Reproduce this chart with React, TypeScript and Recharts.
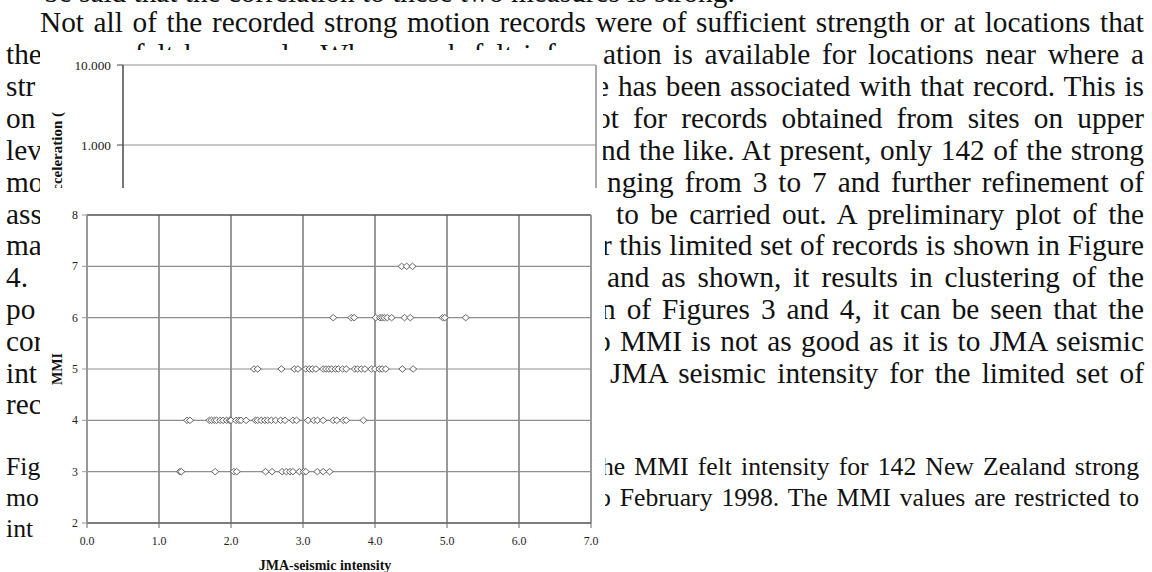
import { CartesianGrid, ReferenceLine, Scatter, ScatterChart, XAxis, YAxis } from 'recharts';

// JMA seismic intensity of each record, one list per MMI level
const JMA_MMI3 = [1.29, 1.31, 1.78, 2.04, 2.08, 2.48, 2.57, 2.71, 2.77, 2.82, 2.86, 2.95, 3.01, 3.04, 3.2, 3.28, 3.37];
const JMA_MMI4 = [
  1.39, 1.43, 1.7, 1.73, 1.77, 1.8, 1.85, 1.89, 1.94, 1.98, 2.0, 2.07, 2.11, 2.14, 2.21, 2.34, 2.37, 2.42, 2.47,
  2.51, 2.56, 2.62, 2.69, 2.75, 2.86, 2.91, 3.07, 3.15, 3.2, 3.28, 3.42, 3.47, 3.56, 3.6, 3.84,
];
const JMA_MMI5 = [
  2.32, 2.37, 2.7, 2.88, 2.93, 3.04, 3.09, 3.13, 3.18, 3.28, 3.32, 3.36, 3.4, 3.45, 3.49, 3.55, 3.6, 3.72, 3.76,
  3.81, 3.86, 3.95, 4.0, 4.06, 4.1, 4.15, 4.38, 4.53,
];
const JMA_MMI6 = [3.42, 3.67, 3.71, 4.01, 4.07, 4.1, 4.13, 4.17, 4.23, 4.41, 4.49, 4.94, 4.97, 5.26];
const JMA_MMI7 = [4.37, 4.44, 4.52];
const MMI_LEVELS = [3, 4, 5, 6, 7];

const JMA_TICKS = [0, 1, 2, 3, 4, 5, 6, 7];
const MMI_TICKS = [2, 3, 4, 5, 6, 7, 8];
const ACC_TICKS = [0.01, 0.1, 1, 10];
const ACC_X_TICKS = [0, 1, 2, 3, 4, 5, 6];

const POINTS = [JMA_MMI3, JMA_MMI4, JMA_MMI5, JMA_MMI6, JMA_MMI7].flatMap((list, i) =>
  list.map((jma) => ({ jma, mmi: MMI_LEVELS[i] })),
);

// page text around the figures: [baseline, part left of the figure, part right of it, where that starts]
const BODY_LINES: [number, string, string, number][] = [
  [96, 'str', 'e has been associated with that record. This is', 596],
  [128, 'on', 'ot for records obtained from sites on upper', 596],
  [160, 'lev', 'nd the like. At present, only 142 of the strong', 601],
  [192, 'mo', 'nging from 3 to 7 and further refinement of', 607],
  [224, 'ass', 'to be carried out. A preliminary plot of the', 616],
  [255, 'ma', 'r this limited set of records is shown in Figure', 602],
  [287, '4.', 'and as shown, it results in clustering of the', 607],
  [319, 'po', 'n of Figures 3 and 4, it can be seen that the', 601],
  [351, 'cor', 'o MMI is not as good as it is to JMA seismic', 596],
  [383, 'int', 'JMA seismic intensity for the limited set of', 610],
  [414, 'rec', '', 0],
];
const CAPTION_LINES: [number, string, string, number][] = [
  [476, 'Fig', 'he MMI felt intensity for 142 New Zealand strong', 601],
  [507, 'mo', 'o February 1998. The MMI values are restricted to', 598],
  [538, 'int', '', 0],
];

const SERIF = '"Liberation Serif", "Times New Roman", serif';
const BODY_FONT = 29.3;
const CAPTION_FONT = 25.7;
const RIGHT = 1144;
const LEFT = 6;
const BOX_LEFT = 40;

type LineProps = { y: number; x: number; w: number; text: string; justify: boolean; size: number };

const TextLine = ({ y, x, w, text, justify, size }: LineProps) => (
  <div
    style={{
      position: 'absolute',
      left: x,
      top: y - (16 + 0.3375 * size),
      width: w,
      whiteSpace: 'nowrap',
      textAlign: justify ? 'justify' : 'left',
      textAlignLast: justify ? 'justify' : 'left',
      fontFamily: SERIF,
      fontSize: size,
      lineHeight: '32px',
      color: '#111',
    }}
  >
    {text}
  </div>
);

// a window onto the page: only what lies inside it is drawn
const Clip = ({ x, y, w, h, children }: { x: number; y: number; w: number; h: number; children: any }) => (
  <div style={{ position: 'absolute', left: x, top: y, width: w, height: h, overflow: 'hidden' }}>
    <div style={{ position: 'absolute', left: -x, top: -y, width: 1152, height: 572 }}>{children}</div>
  </div>
);

const Diamond = (props: any) => {
  const { cx, cy } = props;
  if (cx == null || cy == null) return null;
  return (
    <path
      d={`M${cx - 3.6},${cy}L${cx},${cy - 3.2}L${cx + 3.6},${cy}L${cx},${cy + 3.2}Z`}
      fill="#fff"
      stroke="#555"
      strokeWidth={0.9}
    />
  );
};

// serif tick text, drawn by hand so the font is sure to be used
const serifTick = (size: number, format: (v: number) => string, dy: string) => (props: any) => {
  const { x, y, payload, textAnchor } = props;
  return (
    <text x={x} y={y} dy={dy} textAnchor={textAnchor} fill="#222" style={{ fontFamily: SERIF, fontSize: size }}>
      {format(payload.value)}
    </text>
  );
};

const titleStyle = { fontFamily: SERIF, fontWeight: 700, fill: '#111' };

const accLabel = (props: any) => {
  const vb = props.viewBox || { x: 0, y: 13 };
  const x = vb.x + 17;
  const y = vb.y + 47;
  return (
    <text
      x={x}
      y={y}
      transform={`rotate(-90 ${x} ${y})`}
      textAnchor="end"
      dominantBaseline="central"
      style={{ ...titleStyle, fontSize: 15 }}
    >
      Acceleration (
    </text>
  );
};

const mmiLabel = (props: any) => {
  const vb = props.viewBox || { x: 0, y: 27, height: 308 };
  const x = vb.x + 17;
  const y = vb.y + vb.height / 2;
  return (
    <text
      x={x}
      y={y}
      transform={`rotate(-90 ${x} ${y})`}
      textAnchor="middle"
      dominantBaseline="central"
      style={{ ...titleStyle, fontSize: 14 }}
    >
      MMI
    </text>
  );
};

const jmaLabel = (props: any) => {
  const vb = props.viewBox || { x: 47, y: 335, width: 504 };
  return (
    <text
      x={vb.x + vb.width / 2 - 14}
      y={vb.y + 42}
      textAnchor="middle"
      dominantBaseline="central"
      style={{ ...titleStyle, fontSize: 14 }}
    >
      JMA-seismic intensity
    </text>
  );
};

const AccelerationChart = () => (
  <ScatterChart width={563} height={283} margin={{ top: 13, right: 7, bottom: 0, left: 0 }}>
    <CartesianGrid horizontal={false} stroke="#555" />
    <CartesianGrid vertical={false} stroke="#8f8f8f" strokeWidth={1.2} />
    <XAxis
      type="number"
      dataKey="jma"
      domain={[0, 6]}
      ticks={ACC_X_TICKS}
      height={30}
      tick={serifTick(12, (v) => v.toFixed(1), '0.71em')}
      axisLine={{ stroke: '#444' }}
      tickLine={{ stroke: '#444' }}
    />
    <YAxis
      type="number"
      dataKey="acc"
      scale="log"
      domain={[0.01, 10]}
      allowDataOverflow
      ticks={ACC_TICKS}
      width={83}
      tickSize={6}
      tickMargin={6}
      tick={serifTick(13.3, (v) => v.toFixed(3), '0.35em')}
      axisLine={{ stroke: '#444' }}
      tickLine={{ stroke: '#444' }}
      label={accLabel}
    />
    <ReferenceLine y={10} stroke="#444" />
    <Scatter data={[]} shape={Diamond} isAnimationActive={false} />
  </ScatterChart>
);

const MmiChart = () => (
  <ScatterChart width={565} height={384} margin={{ top: 27, right: 14, bottom: 0, left: 0 }}>
    <CartesianGrid horizontal={false} stroke="#333" />
    <CartesianGrid vertical={false} stroke="#8f8f8f" strokeWidth={1.2} />
    <XAxis
      type="number"
      dataKey="jma"
      domain={[0, 7]}
      ticks={JMA_TICKS}
      interval={0}
      height={49}
      tickSize={5}
      tickMargin={9}
      tick={serifTick(11.8, (v) => v.toFixed(1), '0.71em')}
      axisLine={{ stroke: '#666', strokeWidth: 1.5 }}
      tickLine={{ stroke: '#666' }}
      label={jmaLabel}
    />
    <YAxis
      type="number"
      dataKey="mmi"
      domain={[2, 8]}
      ticks={MMI_TICKS}
      interval={0}
      width={47}
      tickSize={5}
      tickMargin={4}
      tick={serifTick(11.8, (v) => String(v), '0.35em')}
      axisLine={{ stroke: '#999', strokeWidth: 1.5 }}
      tickLine={{ stroke: '#999' }}
      label={mmiLabel}
    />
    <ReferenceLine y={8} stroke="#333" />
    <ReferenceLine x={7} stroke="#9a9a9a" strokeWidth={1.5} />
    <Scatter data={POINTS} shape={Diamond} isAnimationActive={false} />
  </ScatterChart>
);

const SplitLines = ({ lines, size, right }: { lines: [number, string, string, number][]; size: number; right: number }) => (
  <>
    {lines.map(([y, left, rest, rx]) => (
      <div key={y}>
        <Clip x={0} y={y - 30} w={BOX_LEFT} h={40}>
          <TextLine y={y} x={LEFT} w={BOX_LEFT} text={left} justify={false} size={size} />
        </Clip>
        {rest && <TextLine y={y} x={rx} w={right - rx} text={rest} justify size={size} />}
      </div>
    ))}
  </>
);

export default function App() {
  return (
    <div
      style={{
        position: 'absolute',
        left: 0,
        top: 0,
        width: 1152,
        height: 572,
        overflow: 'hidden',
        background: '#fff',
        fontFamily: SERIF,
      }}
    >
      <Clip x={0} y={0} w={1152} h={8}>
        <TextLine y={2} x={44} w={700} text="be said that the correlation to these two measures is strong." justify={false} size={BODY_FONT} />
      </Clip>
      <TextLine
        y={32}
        x={40}
        w={RIGHT - 40}
        text="Not all of the recorded strong motion records were of sufficient strength or at locations that"
        justify
        size={BODY_FONT}
      />
      {/* second line: the start left of the figure, and the tops of the letters that stand above it */}
      <Clip x={0} y={34} w={BOX_LEFT} h={40}>
        <TextLine y={64} x={LEFT} w={BOX_LEFT} text="they" justify={false} size={BODY_FONT} />
      </Clip>
      <Clip x={BOX_LEFT} y={34} w={563} h={16}>
        <TextLine y={64} x={LEFT} w={597} text="they were felt by people. Where such felt inform" justify size={BODY_FONT} />
      </Clip>
      <TextLine y={64} x={603} w={RIGHT - 603} text="ation is available for locations near where a" justify size={BODY_FONT} />

      <SplitLines lines={BODY_LINES} size={BODY_FONT} right={RIGHT} />
      <SplitLines lines={CAPTION_LINES} size={CAPTION_FONT} right={RIGHT - 5} />

      <div
        style={{
          position: 'absolute',
          left: BOX_LEFT,
          top: 50,
          width: 563,
          height: 138,
          overflow: 'hidden',
          background: '#fff',
        }}
      >
        <div style={{ position: 'absolute', left: 0, top: 2 }}>
          <AccelerationChart />
        </div>
      </div>

      <div
        style={{
          position: 'absolute',
          left: BOX_LEFT,
          top: 188,
          width: 565,
          height: 384,
          overflow: 'hidden',
          background: '#fff',
        }}
      >
        <MmiChart />
      </div>
    </div>
  );
}
